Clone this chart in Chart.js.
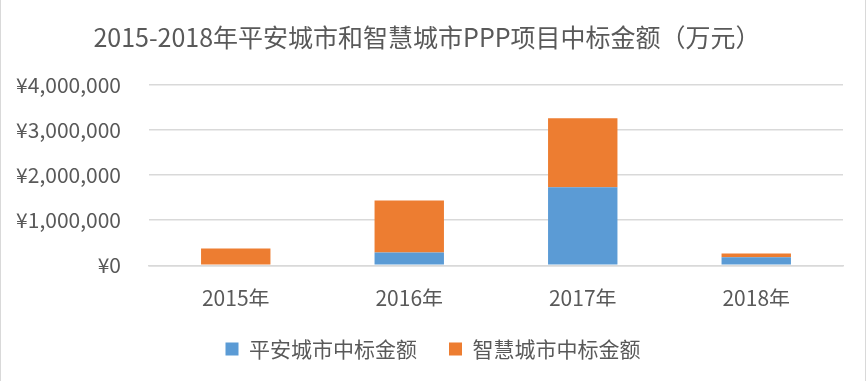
<!DOCTYPE html>
<html>
<head>
<meta charset="utf-8">
<script src="https://cdn.jsdelivr.net/npm/chart.js@4"></script>
<style>
html,body{margin:0;padding:0;background:#fff;}
#wrap{position:relative;box-sizing:border-box;width:866px;height:381px;border-left:1px solid #d9d9d9;border-right:1px solid #d9d9d9;}
</style>
</head>
<body>
<div id="wrap"><canvas id="c"></canvas></div>
<script>
const categories = ['2015年', '2016年', '2017年', '2018年'];
const pinganValues = [0, 282000, 1733000, 178000];
const zhihuiValues = [370000, 1156000, 1527000, 82000];
const yTicks = [0, 1000000, 2000000, 3000000, 4000000];
const titleText = '2015-2018年平安城市和智慧城市PPP项目中标金额（万元）';
const seriesNames = ['平安城市中标金额', '智慧城市中标金额'];

const FONT = '"Noto Sans CJK SC", "Noto Sans", sans-serif';
const legendShift = {
  id: 'legendShift',
  afterLayout(chart) { const l = chart.legend; if (l) { l.left += 6; l.right += 6; } }
};
new Chart(document.getElementById('c'), {
  type: 'bar',
  data: {
    labels: categories,
    datasets: [
      {label: seriesNames[0], data: pinganValues, backgroundColor: '#5b9bd5', categoryPercentage: 1, barPercentage: 0.4},
      {label: seriesNames[1], data: zhihuiValues, backgroundColor: '#ed7d31', categoryPercentage: 1, barPercentage: 0.4}
    ]
  },
  plugins: [legendShift],
  options: {
    responsive: true,
    maintainAspectRatio: false,
    animation: false,
    layout: {padding: {left: 10, right: 22, top: 0, bottom: 11.5}},
    plugins: {
      title: {display: true, text: titleText, color: '#595959', font: {family: FONT, size: 25, weight: 'normal'}, padding: {top: 22, bottom: 33}},
      legend: {position: 'bottom', labels: {color: '#595959', boxWidth: 13, boxHeight: 13, padding: 32, font: {family: FONT, size: 21}}},
      tooltip: {enabled: false}
    },
    scales: {
      x: {
        stacked: true,
        grid: {display: false, drawTicks: false},
        border: {color: '#d9d9d9', width: 1.5},
        afterFit: (axis) => { axis.height = axis.height - 24; },
        ticks: {color: '#595959', padding: 20, font: {family: FONT, size: 21}}
      },
      y: {
        stacked: true,
        min: 0, max: 4000000,
        afterBuildTicks: (axis) => { axis.ticks = yTicks.map(v => ({value: v})); },
        afterFit: (axis) => { axis.width = 138; },
        grid: {color: '#d9d9d9', lineWidth: 1.5, drawTicks: false},
        border: {display: false},
        ticks: {color: '#595959', padding: 28, font: {family: FONT, size: 21},
          callback: (v) => '¥' + Number(v).toLocaleString('en-US')}
      }
    }
  }
});
</script>
</body>
</html>
